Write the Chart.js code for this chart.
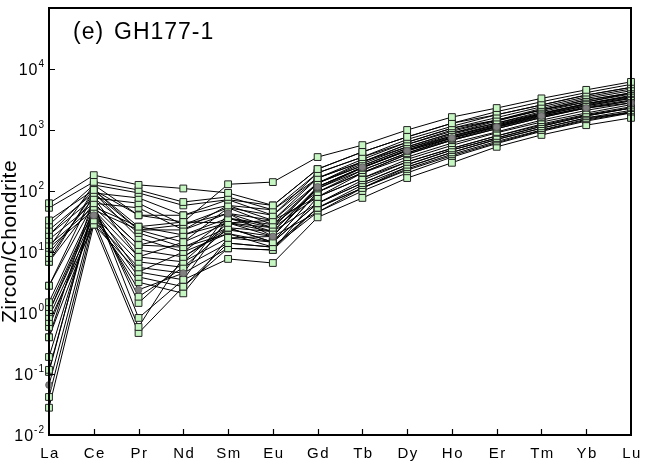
<!DOCTYPE html>
<html>
<head>
<meta charset="utf-8">
<script src="https://cdn.jsdelivr.net/npm/chart.js@4.4.1/dist/chart.umd.min.js"></script>
<style>
  html, body { margin: 0; padding: 0; background: #fff; }
  #wrap { width: 651px; height: 465px; }
</style>
</head>
<body>
<div id="wrap"><canvas id="ree-chart" width="651" height="465"></canvas></div>
<script>
// REE patterns, zircon / chondrite, sample GH177-1
const elements = ['La', 'Ce', 'Pr', 'Nd', 'Sm', 'Eu', 'Gd', 'Tb', 'Dy', 'Ho', 'Er', 'Tm', 'Yb', 'Lu'];
const yTickPowers = [-2, -1, 0, 1, 2, 3, 4];

const spot01 = [33, 104, 40, 31, 129, 140, 360, 565, 1000, 1630, 2290, 3300, 4550, 6150];
const spot02 = [63, 182, 126, 110, 93, 58, 229, 437, 770, 1290, 2000, 2900, 4100, 5600];
const spot03 = [53, 141, 104, 66, 80, 49, 198, 360, 700, 1150, 1780, 2570, 3740, 5000];
const spot04 = [28, 126, 93, 58, 72, 40, 163, 330, 630, 1070, 1600, 2400, 3500, 4700];
const spot05 = [23, 93, 77, 40, 58, 33, 163, 300, 580, 1000, 1450, 2250, 3300, 4400];
const spot06 = [19, 77, 63, 28, 53, 28, 135, 280, 530, 890, 1400, 2130, 3100, 4050];
const spot07 = [16, 63, 53, 23, 43, 25, 135, 260, 500, 850, 1300, 2000, 2880, 3900];
const spot08 = [13, 55, 26, 19, 36, 21.6, 117, 245, 470, 800, 1200, 1850, 2700, 3600];
const spot09 = [11.7, 49, 23, 14.5, 30, 18, 110, 240, 455, 740, 1150, 1750, 2500, 3300];
const spot10 = [9.6, 77, 20.5, 12, 25, 14.5, 96, 220, 420, 700, 1100, 1650, 2400, 3100];
const spot11 = [8, 93, 17, 10, 36, 28, 96, 200, 400, 680, 1050, 1600, 2300, 3000];
const spot12 = [6.9, 104, 23, 28, 43, 33, 80, 198, 360, 610, 930, 1450, 2100, 2780];
const spot13 = [2.8, 63, 13, 19, 30, 25, 80, 163, 330, 560, 900, 1350, 1900, 2600];
const spot14 = [1.5, 55, 10.8, 8.3, 25, 21.6, 63, 150, 300, 500, 800, 1250, 1800, 2400];
const spot15 = [1.25, 49, 8.3, 6.9, 17, 14.5, 63, 135, 270, 470, 740, 1150, 1700, 2290];
const spot16 = [1.04, 40, 6.9, 5.6, 14, 12, 53, 125, 247, 430, 700, 1070, 1580, 2100];
const spot17 = [0.86, 33, 5.6, 4.5, 11.5, 10.8, 53, 112, 230, 400, 650, 1000, 1500, 2000];
const spot18 = [0.71, 28, 4.7, 3.5, 7.7, 6.6, 37, 77, 163, 290, 530, 830, 1200, 1580];
const spot19 = [0.59, 40, 3.9, 2.7, 14, 12, 45, 100, 198, 360, 600, 950, 1400, 1900];
const spot20 = [0.40, 33, 3.2, 2.1, 17, 18, 45, 112, 220, 380, 620, 980, 1450, 1950];
const spot22 = [0.19, 49, 1.85, 5.6, 25, 14.5, 96, 198, 400, 680, 1050, 1600, 2290, 3000];
const spot23 = [0.117, 55, 1.46, 6.9, 30, 21.6, 110, 220, 420, 740, 1150, 1750, 2500, 3300];
const spot24 = [0.108, 63, 0.83, 3.5, 36, 25, 135, 260, 500, 800, 1250, 1850, 2700, 3500];
const spot25 = [0.042, 33, 0.59, 8.3, 23, 18, 117, 240, 470, 770, 1200, 1800, 2600, 3400];
const spot26 = [0.028, 28, 0.47, 2.7, 11.5, 10.8, 80, 163, 300, 500, 800, 1200, 1750, 2290];
const spot27 = [0.4, 77, 8.3, 14.5, 53, 40, 198, 360, 630, 1070, 1450, 2130, 2880, 4050];
const spot28 = [2.8, 93, 23, 23, 58, 49, 163, 300, 530, 890, 1300, 1900, 2700, 3700];
const spot29 = [11.7, 126, 40, 40, 72, 58, 229, 437, 770, 1290, 1780, 2570, 3740, 5000];
const spot30 = [19, 104, 26, 31, 30, 33, 135, 300, 580, 950, 1450, 2130, 3100, 4050];
const spot31 = [6.9, 63, 13, 12, 20, 14.5, 63, 135, 270, 470, 740, 1150, 1700, 2290];
const spot32 = [1.04, 49, 4.7, 10, 20, 12, 53, 112, 247, 430, 700, 1070, 1580, 1900];
// the one spot plotted with grey circles
const spotGrey = [0.066, 40, 2.4, 4.5, 43, 18, 117, 245, 455, 740, 1120, 1700, 2290, 2780];

const squareSpots = [spot01, spot02, spot03, spot04, spot05, spot06, spot07, spot08, spot09, spot10,
    spot11, spot12, spot13, spot14, spot15, spot16, spot17, spot18, spot19, spot20,
    spot22, spot23, spot24, spot25, spot26, spot27, spot28, spot29, spot30, spot31, spot32];

const FONT = '"Liberation Sans", Arial, sans-serif';

const datasets = [];
// lines first (drawn underneath), markers after
for (const s of [...squareSpots, spotGrey]) {
    datasets.push({
        data: s,
        borderColor: '#000',
        borderWidth: 1,
        pointRadius: 0,
        fill: false,
        tension: 0,
        clip: false,
        order: 3
    });
}
for (const s of squareSpots) {
    datasets.push({
        data: s,
        showLine: false,
        pointStyle: 'rect',
        pointRadius: 4.8,
        pointBackgroundColor: '#c6f6c2',
        pointBorderColor: '#222',
        pointBorderWidth: 1,
        clip: false,
        order: 2
    });
}
datasets.push({
    data: spotGrey,
    showLine: false,
    pointStyle: 'circle',
    pointRadius: 3.4,
    pointBackgroundColor: '#808080',
    pointBorderColor: '#5a5a5a',
    pointBorderWidth: 0.8,
    clip: false,
    order: 1
});

// frame, inward ticks, tick labels and titles
const framePlugin = {
    id: 'frame',
    afterDraw(chart) {
        const ctx = chart.ctx;
        const area = chart.chartArea;
        const xs = chart.scales.x;
        const ys = chart.scales.y;
        ctx.save();
        ctx.strokeStyle = '#000';
        ctx.fillStyle = '#000';

        // inward tick marks
        ctx.lineWidth = 1.2;
        ctx.beginPath();
        for (let i = 1; i < elements.length - 1; i++) {
            const px = Math.round(xs.getPixelForValue(i)) + 0.5;
            ctx.moveTo(px, area.bottom);
            ctx.lineTo(px, area.bottom - 6);
        }
        for (const p of yTickPowers) {
            const py = Math.round(ys.getPixelForValue(Math.pow(10, p))) + 0.5;
            ctx.moveTo(area.left, py);
            ctx.lineTo(area.left + 6, py);
        }
        ctx.stroke();

        // frame
        ctx.lineWidth = 2;
        ctx.strokeRect(area.left, area.top, area.right - area.left, area.bottom - area.top);

        // x labels
        ctx.font = '15px ' + FONT;
        ctx.letterSpacing = '1.5px';
        ctx.textAlign = 'center';
        ctx.textBaseline = 'alphabetic';
        elements.forEach((el, i) => {
            ctx.fillText(el, xs.getPixelForValue(i) + 1, area.bottom + 23);
        });

        // y labels 10^n
        ctx.letterSpacing = '1px';
        ctx.textBaseline = 'middle';
        for (const p of yTickPowers) {
            const py = ys.getPixelForValue(Math.pow(10, p));
            const exp = String(p);
            ctx.font = '10px ' + FONT;
            const ew = ctx.measureText(exp).width;
            ctx.textAlign = 'left';
            ctx.fillText(exp, area.left - 4 - ew, py - 5);
            ctx.font = '16px ' + FONT;
            ctx.textAlign = 'right';
            ctx.fillText('10', area.left - 4 - ew, py + 2);
        }

        // y title
        ctx.save();
        ctx.translate(16, (area.top + area.bottom) / 2 + 20);
        ctx.rotate(-Math.PI / 2);
        ctx.font = '21px ' + FONT;
        ctx.letterSpacing = '0.5px';
        ctx.textAlign = 'center';
        ctx.textBaseline = 'alphabetic';
        ctx.fillText('Zircon/Chondrite', 0, 0);
        ctx.restore();

        // panel title
        ctx.font = '23px ' + FONT;
        ctx.letterSpacing = '1px';
        ctx.textAlign = 'left';
        ctx.textBaseline = 'alphabetic';
        ctx.fillText('(e)', area.left + 24, area.top + 31);
        ctx.fillText('GH177-1', area.left + 65, area.top + 31);

        ctx.restore();
    }
};

const ctx = document.getElementById('ree-chart');

const chart = new Chart(ctx, {
    type: 'line',
    data: {
        labels: elements,
        datasets: datasets
    },
    options: {
        responsive: false,
        animation: false,
        devicePixelRatio: 1,
        layout: {
            padding: { top: 8, right: 20, left: 0, bottom: 0 }
        },
        scales: {
            x: {
                type: 'category',
                offset: false,
                grid: { display: false, drawTicks: false },
                border: { display: false },
                ticks: { display: false },
                afterFit: (scale) => { scale.height = 30; }
            },
            y: {
                type: 'logarithmic',
                min: 0.01,
                max: 100000,
                grid: { display: false, drawTicks: false },
                border: { display: false },
                ticks: { display: false },
                afterFit: (scale) => { scale.width = 49; }
            }
        },
        plugins: {
            legend: { display: false },
            tooltip: { enabled: false }
        }
    },
    plugins: [framePlugin]
});
</script>
</body>
</html>
